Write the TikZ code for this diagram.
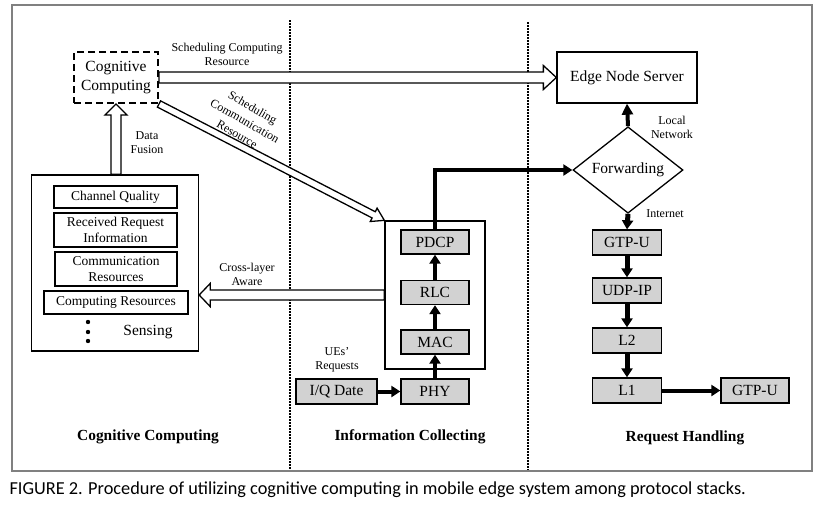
\documentclass[tikz,border=0pt]{standalone}
\usepackage{fontspec}
\setmainfont{Liberation Serif}
\newfontfamily\capfont{Carlito}
\usetikzlibrary{arrows.meta, shapes.geometric, calc}

% hollow block arrow: from, to, shaft width, head width, head length
\newcommand{\hollowarrow}[5]{%
	\draw[line width = 1.3pt, line join = miter, fill = white]
		let \p1 = (#1), \p2 = (#2),
			\n1 = {atan2(scalar(\y2-\y1), scalar(\x2-\x1))},
			\n2 = {veclen(\x2-\x1, \y2-\y1) - #5} in
		($(\p1) + (\n1+90:#3/2)$) -- ($(\p1) + (\n1:\n2) + (\n1+90:#3/2)$)
		-- ($(\p1) + (\n1:\n2) + (\n1+90:#4/2)$) -- (\p2)
		-- ($(\p1) + (\n1:\n2) + (\n1-90:#4/2)$) -- ($(\p1) + (\n1:\n2) + (\n1-90:#3/2)$)
		-- ($(\p1) + (\n1-90:#3/2)$) -- cycle;}

\begin{document}
\begin{tikzpicture}[x = 1pt, y = -1pt, > = {Triangle[length = 9pt, width = 11pt]},
	box/.style = {rectangle, draw, line width = 1.3pt, inner sep = 0pt, align = center, font = \fontsize{13.5}{16.5}\selectfont},
	layer/.style = {box, fill = gray!35, font = \fontsize{15.5}{17}\selectfont},
	flow/.style = {->, line width = 4pt},
	note/.style = {align = center, font = \fontsize{12}{14}\selectfont},
	title/.style = {font = \fontsize{15.4}{17}\selectfont\bfseries}]

	\useasboundingbox (0, 0) rectangle (831, 512);

	% Frame and column separators

	\draw[gray, line width = 1.2pt] (12, 5) rectangle (812, 471);
	\draw[line width = 1.5pt, dash pattern = on 1.5pt off 1.5pt] (290, 20) -- (290, 470);
	\draw[line width = 1.5pt, dash pattern = on 1.5pt off 1.5pt] (528, 22) -- (528, 470);

	% Cognitive computing column

	\node[box, dash pattern = on 7pt off 4pt, line width = 2pt, minimum width = 84pt, minimum height = 51pt, font = \fontsize{15.5}{19}\selectfont] (cog) at (116, 77.5) {Cognitive\\Computing};

	\node[box, minimum width = 167pt, minimum height = 176pt] (sens) at (115, 263) {};
	\node[box, minimum width = 123pt, minimum height = 22pt] (chq) at (115.5, 197) {Channel Quality};
	\node[box, minimum width = 123pt, minimum height = 34pt] (rri) at (115.5, 230) {Received Request\\Information};
	\node[box, minimum width = 122pt, minimum height = 34pt] (comm) at (116, 269) {Communication\\Resources};
	\node[box, minimum width = 144pt, minimum height = 23pt] (cres) at (116, 302.5) {Computing Resources};
	\foreach \y in {322, 332, 341}
		\fill (88, \y) circle (2.2pt);
	\node[font = \fontsize{15.5}{17}\selectfont] (sensing) at (148, 332) {Sensing};

	% Information collecting column

	\node[box, minimum width = 100pt, minimum height = 148pt] (info) at (435, 295) {};
	\node[layer, minimum width = 68pt, minimum height = 24pt] (pdcp) at (435, 242) {PDCP};
	\node[layer, minimum width = 68pt, minimum height = 24pt] (rlc) at (435, 292.5) {RLC};
	\node[layer, minimum width = 68pt, minimum height = 24pt] (mac) at (435, 342) {MAC};
	\node[layer, minimum width = 68pt, minimum height = 25pt] (phy) at (435, 391.5) {PHY};
	\node[layer, minimum width = 81pt, minimum height = 25pt] (iq) at (336.5, 391.5) {I/Q Date};

	% Request handling column

	\node[box, minimum width = 140pt, minimum height = 51pt, font = \fontsize{15.5}{17}\selectfont] (ens) at (627, 77.5) {Edge Node Server};
	\node[diamond, draw, line width = 1.3pt, inner sep = 0pt, minimum width = 110pt, minimum height = 66pt, font = \fontsize{15.5}{17}\selectfont] (fwd) at (628, 170) {Forwarding};
	\node[layer, minimum width = 69pt, minimum height = 25pt] (gtpa) at (627, 242.5) {GTP-U};
	\node[layer, minimum width = 69pt, minimum height = 25pt] (udp) at (627, 290.5) {UDP-IP};
	\node[layer, minimum width = 69pt, minimum height = 25pt] (ltwo) at (627, 340.5) {L2};
	\node[layer, minimum width = 69pt, minimum height = 25pt] (lone) at (627, 390.5) {L1};
	\node[layer, minimum width = 68pt, minimum height = 25pt] (gtpb) at (755, 390.5) {GTP-U};

	% Hollow arrows between columns

	\hollowarrow{cog.east}{ens.west}{11pt}{24pt}{13pt}
	\hollowarrow{sens.north -| cog.south}{cog.south}{10pt}{22pt}{11pt}
	\hollowarrow{cog.south east}{info.north west}{7pt}{15pt}{12pt}
	\hollowarrow{info.west}{info.west -| sens.east}{10pt}{23pt}{11pt}

	% Data flow

	\draw[flow] (iq) -- (phy);
	\draw[flow] (phy) -- (mac);
	\draw[flow] (mac) -- (rlc);
	\draw[flow] (rlc) -- (pdcp);
	\draw[flow] (pdcp.north) |- (fwd.west);
	\draw[flow, > = {Triangle[length = 11pt, width = 11pt]}] (fwd.north) -- (ens.south);
	\draw[flow, line width = 5pt] (fwd.south) -- (gtpa.north);
	\draw[flow, line width = 5pt] (gtpa) -- (udp);
	\draw[flow, line width = 5pt] (udp) -- (ltwo);
	\draw[flow, line width = 5pt] (ltwo) -- (lone);
	\draw[flow] (lone) -- (gtpb);

	% Labels

	\node[note] (lsched) at (227, 54) {Scheduling Computing\\Resource};
	\node[note] (lfusion) at (147, 142.5) {Data\\Fusion};
	\node[note, rotate = -30, font = \fontsize{12}{15.5}\selectfont] (lcomm) at (245, 121) {Scheduling\\Communication\\Resource};
	\node[note] (lcross) at (247, 274.5) {Cross-layer\\Aware};
	\node[note] (lues) at (337, 360) {UEs'\\Requests};
	\node[note] (llocal) at (672, 127) {Local\\Network};
	\node[note] (linet) at (665, 214) {Internet};

	% Column titles

	\node[title] (tcog) at (148, 437) {Cognitive Computing};
	\node[title] (tinfo) at (410, 437) {Information Collecting};
	\node[title] (treq) at (685, 438) {Request Handling};

	% Caption

	\node[anchor = west, font = \capfont\fontsize{18.3}{20}\selectfont] (caption) at (6, 490) {FIGURE 2. Procedure of utilizing cognitive computing in mobile edge system among protocol stacks.};

\end{tikzpicture}
\end{document}
